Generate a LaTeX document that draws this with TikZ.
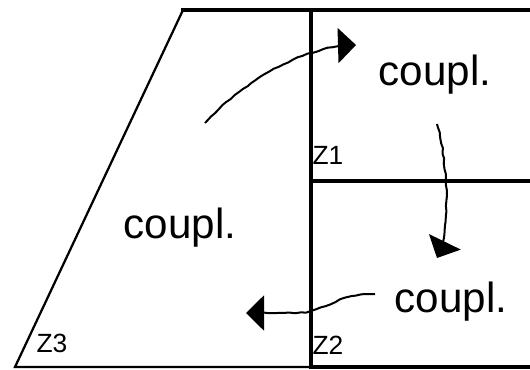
\documentclass[tikz,border=0pt]{standalone}
\usepackage{fontspec}
\setmainfont{Liberation Sans}
\usetikzlibrary{
    arrows.meta,
    decorations.pathmorphing
}
\tikzset{
  wall/.style   = {line width=0.95mm, line cap=rect},
  slant/.style  = {line width=0.45mm},
  lbl/.style    = {inner sep=0pt, font=\fontsize{24}{28}\selectfont},
  zlbl/.style   = {inner sep=0pt, font=\fontsize{15}{18}\selectfont},
  flow/.style   = {-{Triangle[length=3.6mm,width=7mm]}, line width=0.4mm,
                   decorate, decoration={random steps, segment length=3pt,
                   amplitude=0.35pt, pre length=2pt, post length=6pt}}
}
\pgfmathsetseed{7}

\begin{document}
\begin{tikzpicture}[x=0.2mm,y=-0.2mm]
\useasboundingbox (0,0) rectangle (530,370);
\draw[slant] (183,10) -- (15,367) -- (311,367);
\draw[wall] (183,10) -- (530,10);
\draw[wall] (311,10) -- (311,367) -- (530,367);
\draw[wall] (311,181) -- (530,181);
\node[lbl] (coupA) at (435,75) {coupl.};
\node[lbl] (coupB) at (451,302) {coupl.};
\node[lbl] (coupC) at (180,228) {coupl.};
\node[zlbl] (zA) at (328,155) {Z1};
\node[zlbl] (zB) at (328,345) {Z2};
\node[zlbl] (zC) at (52,343) {Z3};
\coordinate (srcC) at (205,123);
\coordinate (dstA) at (356,45);
\coordinate (srcA) at (437,124);
\coordinate (dstB) at (437,258);
\coordinate (srcB) at (375,294);
\coordinate (dstC) at (246,313);
\draw[flow] (srcC) .. controls (250,75) and (310,45) .. (dstA);
\draw[flow] (srcA) .. controls (450,170) and (449,243) .. (dstB);
\draw[flow] (srcB) .. controls (335,294) and (325,313) .. (295,313) -- (dstC);
\end{tikzpicture}
\end{document}
